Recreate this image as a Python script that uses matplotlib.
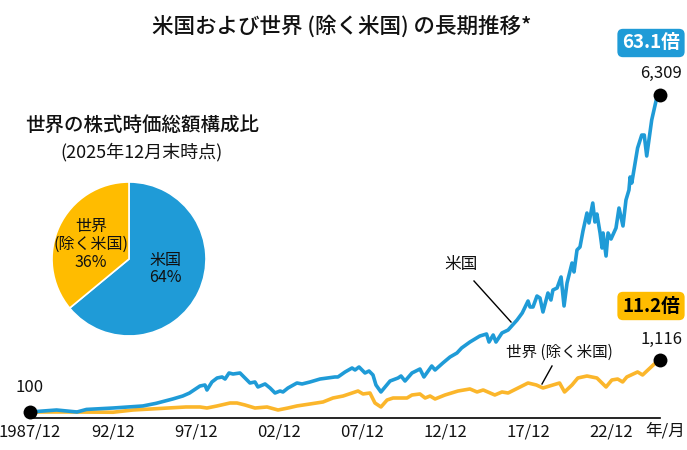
import matplotlib
matplotlib.use('Agg')
from matplotlib import pyplot as plt
from matplotlib.lines import Line2D

plt.rcParams['font.family'] = ['Noto Sans CJK JP', 'DejaVu Sans']

# years since 1987/12
us_years = [0, 1.6, 2.83, 3.4, 5, 6.8, 7.6, 8.6, 9.2, 9.6, 10.24, 10.54, 10.66, 10.96, 11.27, 11.57, 11.75,
            11.99, 12.23, 12.65, 12.95, 13.25, 13.55, 13.73, 14.16, 14.46, 14.76, 15.06, 15.24, 15.54, 16.08,
            16.39, 16.87, 17.47, 18.37, 18.55, 18.98, 19.4, 19.58, 19.82, 20.18, 20.42, 20.66, 20.84, 21.14,
            21.39, 21.69, 22.17, 22.35, 22.59, 23.01, 23.49, 23.73, 24.2, 24.4, 24.87, 25.3, 25.72, 26.0,
            26.5, 27.1, 27.5, 27.65, 27.9, 28.07, 28.43, 28.8, 29.34, 29.65, 30.0, 30.12, 30.3, 30.54, 30.72,
            30.9, 31.2, 31.38, 31.5, 31.75, 31.99, 32.17, 32.35, 32.65, 32.77, 32.95, 33.13, 33.31, 33.55,
            33.67, 33.9, 34.03, 34.15, 34.34, 34.46, 34.52, 34.7, 34.82, 35.0, 35.3, 35.48, 35.72, 35.9,
            36.08, 36.15, 36.25, 36.6, 36.85, 37, 37.15, 37.45, 37.75, 37.95]
us_values = [100, 139, 100, 150, 178, 218, 270, 355, 413, 470, 609, 629, 531, 688, 766, 786, 746,
             864, 844, 864, 766, 668, 688, 590, 649, 570, 472, 511, 492, 570, 668,
             649, 688, 746, 786, 786, 884, 962, 923, 982, 864, 903, 825, 629, 492,
             590, 707, 766, 805, 707, 864, 942, 786, 1001, 923, 1060, 1177, 1256, 1354,
             1471, 1589, 1628, 1471, 1608, 1471, 1648, 1706, 1902, 2039, 2274, 2157, 2157, 2372, 2333,
             2059, 2431, 2294, 2490, 2529, 2745, 2177, 2627, 3019, 2843, 3274, 3333, 3646, 3998,
             3803, 4194, 3822, 3979, 3607, 3313, 3607, 3156, 3607, 3489, 3705, 4096, 3744, 4253,
             4449, 4704, 4586, 5272, 5526, 5526, 5115, 5820, 6250, 6309]

world_years = [0, 2.2, 5, 6.2, 9.4, 10.24, 10.66, 11.27, 12.05, 12.47, 12.95, 13.55, 14.28, 14.94, 15.54, 16.08,
               16.87, 17.65, 18.25, 18.86, 19.4, 19.76, 20.06, 20.48, 20.78, 21.14, 21.51, 21.87, 22.71, 23.01,
               23.49, 23.8, 24.1, 24.4, 25.0, 25.78, 26.5, 26.93, 27.3, 28.0, 28.43, 28.8, 30, 30.5, 30.9,
               31.5, 31.9, 32.2, 32.65, 33, 33.55, 34.15, 34.7, 35.05, 35.4, 35.7, 35.95, 36.6, 36.9, 37.35,
               37.8, 37.95]
world_values = [100, 100, 95, 139, 198, 198, 178, 218, 276, 276, 237, 178, 198, 139, 178, 218,
                257, 296, 374, 413, 472, 511, 453, 472, 276, 198, 335, 374, 374, 433,
                453, 374, 413, 355, 433, 511, 551, 492, 531, 433, 492, 472, 668, 629, 570,
                629, 668, 492, 629, 766, 805, 766, 590, 727, 746, 688, 786, 884, 825, 962,
                1099, 1116]

tick_years = [0, 5, 10, 15, 20, 25, 30, 35]
tick_labels = ['1987/12', '92/12', '97/12', '02/12', '07/12', '12/12', '17/12', '22/12']

pie_shares = [64, 36]
pie_labels = ['米国\n64%', '世界\n(除く米国)\n36%']

BLUE = '#1F9BD7'
YELLOW = '#FFBC00'
LINE_YELLOW = '#FBB62B'
W, H = 687, 450


def fx(x):
    return x / W


def fy(y):
    return 1 - y / H


def put(x, y, s, **kw):
    kw.setdefault('ha', 'center')
    kw.setdefault('va', 'center')
    kw.setdefault('color', '#111111')
    return fig.text(fx(x), fy(y), s, **kw)


fig = plt.figure(figsize=(6.87, 4.5), dpi=100)

ax = fig.add_axes([fx(30), fy(417.5), fx(630), (417.5 - 60) / H])
ax.plot(us_years, us_values, color=BLUE, lw=2.6, solid_joinstyle='round', zorder=3)
ax.plot(world_years, world_values, color=LINE_YELLOW, lw=2.6, solid_joinstyle='round', zorder=2)
ax.plot([0, 37.95, 37.95], [100, 6309, 1116], 'o', color='black', ms=10, clip_on=False, zorder=5, mew=0)
ax.set_xlim(0, 37.95)
ax.set_ylim(-8, 6996)
ax.patch.set_alpha(0)
for s in ['top', 'left', 'right']:
    ax.spines[s].set_visible(False)
ax.spines['bottom'].set_linewidth(1.2)
ax.set_yticks([])
ax.set_xticks(tick_years)
ax.set_xticklabels(tick_labels, fontsize=12, color='#111111')
ax.tick_params(axis='x', length=0, pad=4)

# pie
pie_ax = fig.add_axes([fx(52), fy(336), fx(154), 154 / H])
pie_ax.pie(pie_shares, colors=[BLUE, YELLOW], startangle=90, counterclock=False, radius=1,
           wedgeprops={'edgecolor': 'white', 'linewidth': 1.2})
pie_ax.set_xlim(-1, 1)
pie_ax.set_ylim(-1, 1)
put(165, 269, pie_labels[0], fontsize=11.5, linespacing=1.05)
put(91, 244.5, pie_labels[1], fontsize=11.5, linespacing=1.1)

# texts
put(342, 27, '米国および世界 (除く米国) の長期推移*', fontsize=15.5, fontweight='medium')
put(142, 125, '世界の株式時価総額構成比', fontsize=14, fontweight='medium')
put(141, 152, '(2025年12月末時点)', fontsize=13)
put(30, 388, '100', fontsize=12)
put(661, 73, '6,309', fontsize=12)
put(661, 339, '1,116', fontsize=12)
put(665, 431, '年/月', fontsize=12)
put(461, 265, '米国', fontsize=12)
put(559.5, 352, '世界 (除く米国)', fontsize=11.2)

put(651, 43, '63.1倍', fontsize=13.5, color='white', fontweight='bold',
    bbox=dict(boxstyle='round,pad=0.25,rounding_size=0.3', fc=BLUE, ec='none'))
put(651, 306, '11.2倍', fontsize=13.5, color='black', fontweight='bold',
    bbox=dict(boxstyle='round,pad=0.25,rounding_size=0.3', fc=YELLOW, ec='none'))

# leader lines
fig.add_artist(Line2D([fx(474), fx(511)], [fy(281), fy(322)], color='black', lw=1))
fig.add_artist(Line2D([fx(552), fx(542)], [fy(366), fy(384)], color='black', lw=1))

plt.savefig('out.png', dpi=100)
